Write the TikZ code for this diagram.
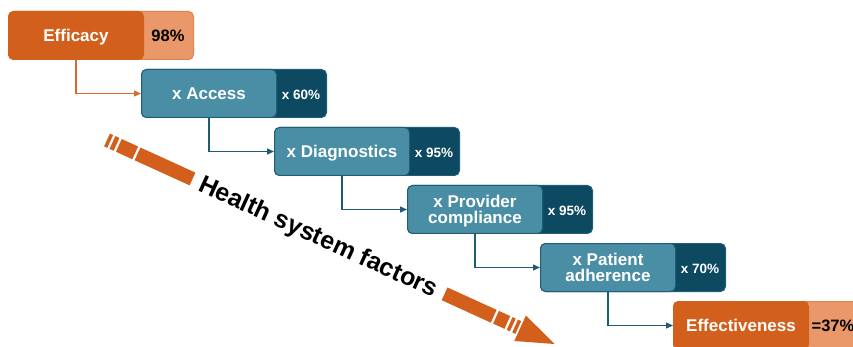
\documentclass[tikz,border=0pt]{standalone}
\usepackage{fontspec}
\setmainfont{Liberation Sans}
\usetikzlibrary{arrows.meta}
\definecolor{orMain}{HTML}{D2601C}
\definecolor{orLight}{HTML}{EA9769}
\definecolor{orEdge}{HTML}{E0844E}
\definecolor{tlMain}{HTML}{4A8EA5}
\definecolor{tlDark}{HTML}{0D4A62}
\definecolor{tlEdge}{HTML}{1E5F75}
\definecolor{tlLine}{HTML}{1F5C72}
\definecolor{orLine}{HTML}{D9692E}
\begin{document}
\begin{tikzpicture}[x=1pt,y=-1pt,
  outerbox/.style={rounded corners=5pt, line width=1pt, minimum width=185pt, minimum height=48pt, anchor=north west, inner sep=0pt},
  mainbox/.style={rounded corners=5pt, line width=1pt, minimum width=135pt, minimum height=48pt, anchor=north west, inner sep=0pt, text=white, font=\fontsize{17}{16.5}\selectfont\bfseries, align=center, text depth=0pt},
  valtext/.style={font=\fontsize{13.5}{16}\selectfont\bfseries, text=white, inner sep=0pt},
  bigval/.style={font=\fontsize{16.5}{18}\selectfont\bfseries, text=black, inner sep=0pt},
  conn/.style={line width=1.2pt, -{Triangle[length=7pt,width=6pt]}},
  bandpart/.style={fill=orMain}
]
\fill[white] (0,0) rectangle (853,347);
\clip (0,0) rectangle (853,347);
\useasboundingbox (0,0) rectangle (853,347);

% Efficacy
\node[outerbox, fill=orLight, draw=orEdge] (effbg) at (8,11) {};
\node[mainbox, fill=orMain, draw=orMain] (eff) at (8,11) {Efficacy};
\node[bigval] (effv) at (168,35.5) {98\%};
% Access
\node[outerbox, fill=tlDark, draw=tlEdge] (accbg) at (141,69) {};
\node[mainbox, fill=tlMain, draw=tlEdge] (acc) at (141,69) {x Access};
\node[valtext] (accv) at (301,95) {x 60\%};
% Diagnostics
\node[outerbox, fill=tlDark, draw=tlEdge] (diabg) at (274,127) {};
\node[mainbox, fill=tlMain, draw=tlEdge] (dia) at (274,127) {x Diagnostics};
\node[valtext] (diav) at (434,153) {x 95\%};
% Provider compliance
\node[outerbox, fill=tlDark, draw=tlEdge] (probg) at (407,185) {};
\node[mainbox, fill=tlMain, draw=tlEdge] (pro) at (407,185) {x Provider\\compliance};
\node[valtext] (prov) at (567,211) {x 95\%};
% Patient adherence
\node[outerbox, fill=tlDark, draw=tlEdge] (patbg) at (540,243) {};
\node[mainbox, fill=tlMain, draw=tlEdge] (pat) at (540,243) {x Patient\\adherence};
\node[valtext] (patv) at (700,269) {x 70\%};
% Effectiveness
\node[outerbox, fill=orLight, draw=orEdge] (effcbg) at (673,301) {};
\node[mainbox, fill=orMain, draw=orMain] (effc) at (673,301) {Effectiveness};
\node[bigval] (effcv) at (833,325.5) {=37\%};

% connectors
\draw[conn, draw=orLine] (eff.south) |- (acc.west);
\draw[conn, draw=tlLine] (acc.south) |- (dia.west);
\draw[conn, draw=tlLine] (dia.south) |- (pro.west);
\draw[conn, draw=tlLine] (pro.south) |- (pat.west);
\draw[conn, draw=tlLine] (pat.south) |- (effc.west);

% health system band
\begin{scope}[shift={(107,140)}, rotate=-24.5]
  \fill[bandpart] (0,-7) rectangle (3.5,7);
  \fill[bandpart] (6,-7) rectangle (10.5,7);
  \fill[bandpart] (13,-7) rectangle (31,7);
  \fill[bandpart] (33.5,-7) rectangle (94,7);
  \fill[bandpart] (371,-7) rectangle (425,7);
  \fill[bandpart] (427.5,-7) rectangle (440,7);
  \fill[bandpart] (442.5,-7) rectangle (446,7);
  \fill[bandpart] (448.5,-7) rectangle (452,7);
  \fill[bandpart] (454,-14) -- (492,0) -- (454,14) -- cycle;
\end{scope}
\node[rotate=-24.5, font=\fontsize{25}{28}\selectfont\bfseries, inner sep=0pt] (hsf) at (318,238) {Health system factors};
\end{tikzpicture}
\end{document}
